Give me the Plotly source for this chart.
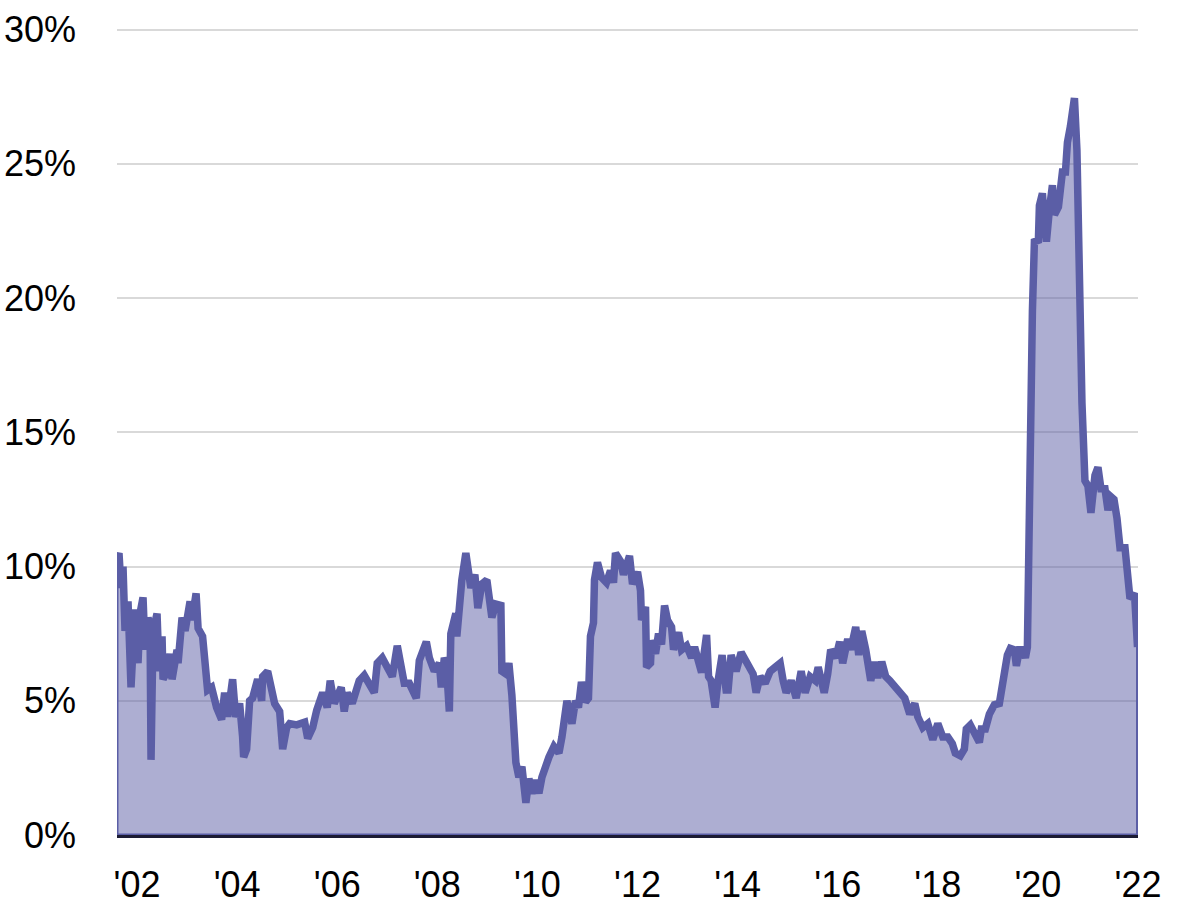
import plotly.graph_objects as go

# Decimal-year positions of the observations
years = [
    2001.60, 2001.64, 2001.68, 2001.72, 2001.76, 2001.82, 2001.88, 2001.96, 2002.02, 2002.06,
    2002.12, 2002.16, 2002.22, 2002.26, 2002.28, 2002.32, 2002.40, 2002.44, 2002.50, 2002.52,
    2002.60, 2002.66, 2002.70, 2002.80, 2002.82, 2002.90, 2002.96, 2003.00, 2003.06, 2003.10,
    2003.18, 2003.22, 2003.31, 2003.35, 2003.41, 2003.49, 2003.59, 2003.69, 2003.75, 2003.81,
    2003.91, 2003.97, 2004.05, 2004.11, 2004.13, 2004.19, 2004.25, 2004.31, 2004.41, 2004.49,
    2004.51, 2004.61, 2004.69, 2004.75, 2004.85, 2004.91, 2004.99, 2005.05, 2005.19, 2005.29,
    2005.35, 2005.41, 2005.51, 2005.59, 2005.65, 2005.71, 2005.80, 2005.86, 2005.94, 2006.08,
    2006.14, 2006.20, 2006.30, 2006.44, 2006.54, 2006.64, 2006.74, 2006.80, 2006.90, 2007.00,
    2007.10, 2007.20, 2007.28, 2007.34, 2007.44, 2007.58, 2007.64, 2007.78, 2007.84, 2007.94,
    2008.04, 2008.08, 2008.14, 2008.18, 2008.24, 2008.27, 2008.37, 2008.39, 2008.49, 2008.57,
    2008.67, 2008.75, 2008.81, 2008.89, 2008.99, 2009.09, 2009.17, 2009.27, 2009.29, 2009.37,
    2009.43, 2009.49, 2009.57, 2009.63, 2009.69, 2009.77, 2009.83, 2009.89, 2009.97, 2010.03,
    2010.09, 2010.17, 2010.23, 2010.33, 2010.43, 2010.49, 2010.59, 2010.69, 2010.76, 2010.82,
    2010.88, 2010.96, 2011.02, 2011.06, 2011.12, 2011.14, 2011.20, 2011.28, 2011.38, 2011.46,
    2011.52, 2011.56, 2011.66, 2011.72, 2011.84, 2011.90, 2012.00, 2012.06, 2012.08, 2012.16,
    2012.18, 2012.26, 2012.28, 2012.36, 2012.42, 2012.48, 2012.54, 2012.60, 2012.68, 2012.72,
    2012.82, 2012.88, 2012.98, 2013.08, 2013.14, 2013.22, 2013.28, 2013.38, 2013.42, 2013.47,
    2013.55, 2013.61, 2013.69, 2013.77, 2013.81, 2013.87, 2013.97, 2014.07, 2014.15, 2014.25,
    2014.31, 2014.37, 2014.45, 2014.55, 2014.65, 2014.75, 2014.85, 2014.91, 2014.97, 2015.07,
    2015.17, 2015.27, 2015.35, 2015.45, 2015.55, 2015.61, 2015.73, 2015.80, 2015.86, 2015.96,
    2016.04, 2016.10, 2016.20, 2016.26, 2016.36, 2016.42, 2016.48, 2016.56, 2016.66, 2016.74,
    2016.80, 2016.88, 2016.96, 2017.04, 2017.14, 2017.24, 2017.34, 2017.44, 2017.54, 2017.60,
    2017.70, 2017.80, 2017.90, 2018.00, 2018.10, 2018.20, 2018.29, 2018.35, 2018.45, 2018.53,
    2018.57, 2018.65, 2018.73, 2018.83, 2018.87, 2018.95, 2019.03, 2019.13, 2019.23, 2019.27,
    2019.33, 2019.39, 2019.45, 2019.53, 2019.57, 2019.63, 2019.69, 2019.75, 2019.79, 2019.83,
    2019.85, 2019.89, 2019.93, 2020.01, 2020.03, 2020.09, 2020.13, 2020.17, 2020.23, 2020.29,
    2020.33, 2020.41, 2020.45, 2020.49, 2020.55, 2020.59, 2020.65, 2020.73, 2020.78, 2020.82,
    2020.88, 2020.94, 2021.00, 2021.06, 2021.10, 2021.14, 2021.20, 2021.26, 2021.34, 2021.40,
    2021.46, 2021.52, 2021.58, 2021.64, 2021.74, 2021.80, 2021.84, 2021.93, 2021.99,
]

# Values in percent
values = [
    10.3, 10.5, 9.2, 10.0, 7.6, 8.7, 5.5, 8.4, 6.4, 8.25,
    8.85, 6.9, 8.1, 7.8, 2.8, 7.6, 8.25, 6.1, 7.4, 5.8,
    6.1, 6.75, 5.8, 6.9, 6.4, 8.1, 7.6, 8.25, 8.7, 8.0,
    9.0, 7.7, 7.4, 6.6, 5.4, 5.5, 4.75, 4.3, 5.3, 4.4,
    5.8, 4.4, 4.9, 3.65, 2.9, 3.2, 5.0, 5.1, 5.8, 5.0,
    5.9, 6.1, 5.3, 4.9, 4.6, 3.2, 4.0, 4.15, 4.1, 4.15,
    4.2, 3.6, 4.0, 4.65, 5.0, 5.3, 4.75, 5.75, 4.9, 5.5,
    4.6, 5.3, 4.9, 5.75, 5.95, 5.65, 5.3, 6.4, 6.6, 6.25,
    5.9, 7.05, 6.25, 5.65, 5.65, 5.1, 6.5, 7.2, 6.6, 6.1,
    6.4, 5.5, 6.6, 6.4, 4.6, 7.5, 8.25, 7.4, 9.5, 10.5,
    9.2, 9.7, 8.45, 9.35, 9.5, 8.1, 8.6, 8.55, 6.1, 6.0,
    6.4, 5.2, 2.7, 2.15, 2.55, 1.2, 2.1, 1.55, 2.05, 1.55,
    2.15, 2.7, 2.9, 3.3, 3.05, 3.65, 5.0, 4.15, 5.0, 4.75,
    5.7, 4.95, 5.1, 7.4, 7.9, 9.5, 10.15, 9.6, 9.4, 9.85,
    9.4, 10.5, 10.2, 9.7, 10.4, 9.35, 9.8, 9.1, 8.0, 8.5,
    6.25, 6.4, 7.25, 6.75, 7.5, 7.1, 8.55, 8.0, 7.75, 6.9,
    7.55, 6.9, 7.05, 6.6, 7.0, 6.45, 6.05, 7.45, 5.9, 5.75,
    4.75, 5.75, 6.7, 5.4, 5.4, 6.7, 6.1, 6.8, 6.5, 6.25,
    6.0, 5.3, 5.9, 5.65, 6.1, 6.25, 6.4, 5.75, 5.3, 5.75,
    5.1, 6.1, 5.3, 5.9, 5.75, 6.25, 5.3, 6.0, 6.9, 6.6,
    7.2, 6.4, 7.3, 6.9, 7.75, 6.7, 7.6, 6.9, 5.75, 6.45,
    5.85, 6.45, 5.9, 5.75, 5.5, 5.3, 5.1, 4.5, 4.9, 4.4,
    4.0, 4.15, 3.55, 4.15, 3.65, 3.65, 3.4, 3.05, 2.95, 3.2,
    3.95, 4.1, 3.8, 3.45, 3.95, 3.95, 4.5, 4.85, 4.9, 5.35,
    6.2, 6.7, 6.95, 6.9, 6.3, 6.9, 6.9, 6.6, 7.0, 13.4,
    15.75, 19.5, 22.1, 22.15, 23.45, 23.9, 22.95, 22.1, 23.3, 24.2,
    23.1, 23.4, 24.05, 24.7, 24.7, 25.8, 26.4, 27.45, 25.5, 21.1,
    16.1, 13.2, 13.0, 12.0, 13.3, 13.4, 13.7, 12.9, 12.9, 12.1,
    12.6, 12.5, 11.8, 10.7, 10.7, 8.95, 8.8, 9.0, 7.0,
]

tick_years = [2002, 2004, 2006, 2008, 2010, 2012, 2014, 2016, 2018, 2020, 2022]
tick_labels = ["'02", "'04", "'06", "'08", "'10", "'12", "'14", "'16", "'18", "'20", "'22"]
y_ticks = [0, 5, 10, 15, 20, 25, 30]
y_labels = ["0%", "5%", "10%", "15%", "20%", "25%", "30%"]

LINE = "#5b5ea6"
FILL = "rgba(91,94,166,0.5)"
FONT = "Liberation Sans, Arial, sans-serif"

fig = go.Figure()

fig.add_trace(go.Scatter(
    x=years, y=values, mode="lines", fill="tozeroy",
    fillcolor=FILL, line=dict(color=LINE, width=7.5),
    hoverinfo="skip", showlegend=False,
))

# Thin outline closing the area at both ends
fig.add_trace(go.Scatter(
    x=[years[0], years[0], None, years[-1], years[-1], None, years[0], years[-1]],
    y=[0, values[0], None, values[-1], 0, None, 0, 0],
    mode="lines", line=dict(color=LINE, width=3),
    hoverinfo="skip", showlegend=False,
))

fig.update_layout(
    width=1178, height=907,
    margin=dict(l=117, r=40, t=28, b=72, autoexpand=False),
    paper_bgcolor="white", plot_bgcolor="white",
    font=dict(family=FONT, size=36, color="black"),
    xaxis=dict(
        range=[years[0], 2022.0],
        tickvals=tick_years, ticktext=tick_labels,
        showgrid=False, zeroline=False,
        showline=True, linecolor="#1b1b33", linewidth=3,
        ticks="", ticklabelstandoff=16, automargin=False,
        ticklabeloverflow="allow",
        tickfont=dict(family=FONT, size=36, color="black"),
    ),
    yaxis=dict(
        range=[0, 30.06],
        tickvals=y_ticks, ticktext=y_labels,
        showgrid=True, gridcolor="#d9d9d9", gridwidth=2,
        zeroline=False, showline=False,
        ticks="", ticklabelstandoff=40, automargin=False,
        ticklabeloverflow="allow",
        tickfont=dict(family=FONT, size=36, color="black"),
    ),
)

fig.write_html(
    "out.html",
    config={"displayModeBar": False, "staticPlot": True},
    post_script="document.body.style.margin='0px'; document.body.style.overflow='hidden';",
)
